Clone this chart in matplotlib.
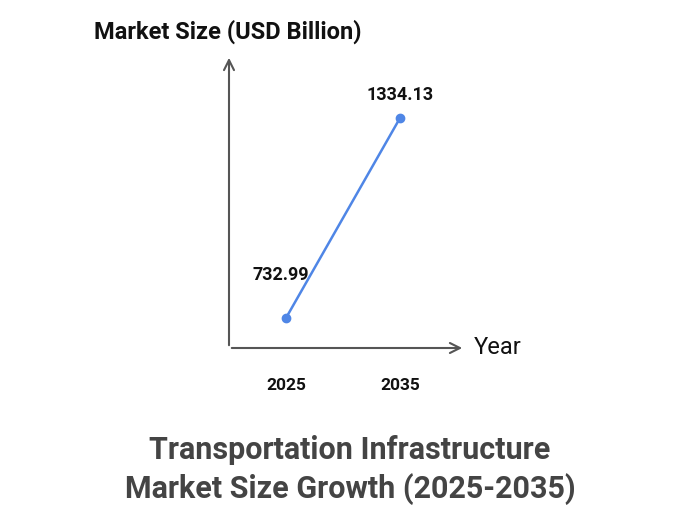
import matplotlib
matplotlib.use("Agg")
import matplotlib.pyplot as plt

years = [2025, 2035]
values = [732.99, 1334.13]
labels = ["732.99", "1334.13"]

plt.rcParams['font.family'] = ['Roboto', 'DejaVu Sans']
fig = plt.figure(figsize=(7, 5.25), dpi=100)
W, H = 700, 525
l, r, t, b = 229, 465, 55, 348
ax = fig.add_axes([l/W, 1-b/H, (r-l)/W, (b-t)/H])
ax.set_xlim(2020, 2040.7)
ax.set_ylim(642.8, 1523.5)
for s in ax.spines.values():
    s.set_visible(False)
ax.set_xticks([]); ax.set_yticks([])
ax.patch.set_alpha(0)

ax.plot(years, values, color='#4f86e6', lw=1.8, marker='o', ms=6, zorder=3)
ax.annotate(labels[0], (years[0], values[0]), xytext=(-4, 27), textcoords='offset points',
            ha='center', fontsize=13, fontweight='bold', color='#111')
ax.annotate(labels[1], (years[1], values[1]), xytext=(0, 13), textcoords='offset points',
            ha='center', fontsize=13, fontweight='bold', color='#111')
for yv in years:
    ax.annotate(str(yv), (yv, 642.8), xytext=(0, -30), textcoords='offset points',
                ha='center', fontsize=12.5, fontweight='bold', color='#111')

ap = dict(arrowstyle='->', color='#555', lw=1.5, mutation_scale=18)
ax.annotate('', xy=(0, 1), xytext=(0, 0), xycoords='axes fraction', arrowprops=ap)
ax.annotate('', xy=(1, 0), xytext=(0, 0), xycoords='axes fraction', arrowprops=ap)

fig.text(498/W, 1-348/H, "Year", ha='center', va='center', fontsize=17, color='#111')
fig.text(228/W, 1-32/H, "Market Size (USD Billion)", ha='center', va='center',
         fontsize=17, fontweight='bold', color='#111')
fig.text(350/W, 1-450/H, "Transportation Infrastructure", ha='center', va='center',
         fontsize=22, fontweight='bold', color='#444')
fig.text(350/W, 1-489/H, "Market Size Growth (2025-2035)", ha='center', va='center',
         fontsize=22, fontweight='bold', color='#444')
fig.savefig("out.png", dpi=100)
